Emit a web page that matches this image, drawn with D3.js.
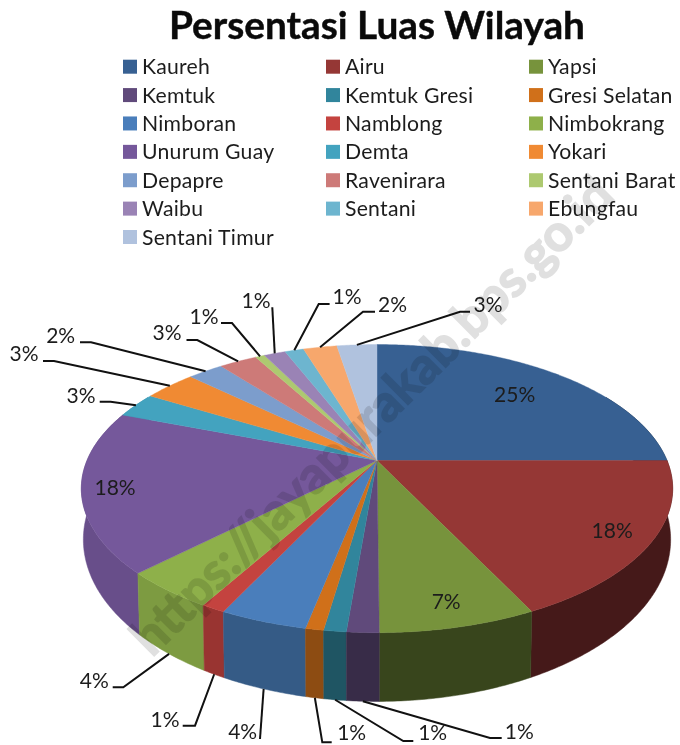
<!DOCTYPE html>
<html><head><meta charset="utf-8">
<script src="https://cdn.jsdelivr.net/npm/d3@7"></script>
<style>html,body{margin:0;background:#fff}svg{display:block;filter:blur(.35px)}text{font-family:Lato,"Open Sans",sans-serif}</style>
</head><body><svg id="c" width="680" height="745"></svg>
<script>
const titleText = "Persentasi Luas Wilayah";
const categories = ["Kaureh","Airu","Yapsi","Kemtuk","Kemtuk Gresi","Gresi Selatan","Nimboran","Namblong","Nimbokrang","Unurum Guay","Demta","Yokari","Depapre","Ravenirara","Sentani Barat","Waibu","Sentani","Ebungfau","Sentani Timur"];
const shares = [25.0,17.75,7.15,1.46,1.02,0.82,4.0,1.1,4.3,18.1,2.86,3.45,2.35,2.5,0.61,1.43,1.24,2.22,2.64];
const colors = ["#376092","#953735","#77933c","#604a7b","#31859c","#d0701a","#4a7ebb","#c4433f","#8eb04a","#75589b","#43a3bf","#f08a33","#7c9dcc","#cd7a78","#adc970","#9a83b5","#6db5cf","#f7a76c","#b0c2de"];
const legendCols = [123,326,529];
const legendRowY = d3.scaleLinear().domain([0,6]).range([66.7,237]);

// perspective projection of the pie's disc
const cx=377, tilt=0.195;
const topFace={cy:460.5,R:290,A:138.6}, baseFace={cy:508,R:288,A:155.7};
const project=(f,phi,r=1)=>{
  const s=1/(1+tilt*r*Math.cos(phi));
  return [cx+f.R*r*Math.sin(phi)*s, f.cy-f.A*r*Math.cos(phi)*s];
};
const svg=d3.select("#c");
const line=d3.line();
const arcs=d3.pie().sort(null).value(d=>d)(shares);
const rim=(f,a,b)=>{const n=Math.max(2,Math.ceil((b-a)/0.01));return d3.range(n+1).map(i=>project(f,a+(b-a)*i/n));};

// walls
const wallShade=d3.scaleLinear().domain([90,170,190,205,225,260]).range([2.2,2.1,1.1,.8,.1,.35]).clamp(true);
const deg=Math.PI/180, wallFrom=60*deg, wallTo=300*deg;
const mid=d=>(d.startAngle+d.endAngle)/2;
const walls=arcs.map((d,i)=>({d,i})).filter(o=>o.d.endAngle>wallFrom&&o.d.startAngle<wallTo)
  .sort((p,q)=>Math.abs(Math.PI-mid(q.d))-Math.abs(Math.PI-mid(p.d)));
const wallColor=o=>d3.color(colors[o.i]).darker(wallShade(mid(o.d)/deg)).formatHex();
svg.append("g").selectAll("path").data(walls).join("path")
  .attr("d",o=>{const a=Math.max(o.d.startAngle,wallFrom),b=Math.min(o.d.endAngle,wallTo);
    return line(rim(topFace,a,b).concat(rim(baseFace,a,b).reverse()))+"Z";})
  .attr("fill",wallColor).attr("stroke",wallColor).attr("stroke-width",.5);

// top faces
svg.append("g").selectAll("path").data(arcs).join("path")
  .attr("d",d=>line([[cx,topFace.cy]].concat(rim(topFace,d.startAngle,d.endAngle)))+"Z")
  .attr("fill",(d,i)=>colors[i]).attr("stroke",(d,i)=>colors[i]).attr("stroke-width",.4);

// watermark
svg.append("text").attr("transform","translate(152,658) rotate(-44.7)").attr("font-size",51).attr("font-weight",700)
  .attr("fill","#000").attr("stroke","#000").attr("stroke-width",1.6).attr("opacity",.12).text("https://jayapurakab.bps.go.id");

// title & legend
svg.append("text").attr("x",377).attr("y",39).attr("text-anchor","middle").attr("font-size",38.8).attr("font-weight",700).attr("stroke","#0a0a0a").attr("stroke-width",.4).attr("fill","#0a0a0a").text(titleText);
const lg=svg.append("g").selectAll("g").data(categories).join("g")
  .attr("transform",(d,i)=>`translate(${legendCols[i%3]},${legendRowY(Math.floor(i/3))})`);
lg.append("rect").attr("x",0).attr("y",-7).attr("width",14).attr("height",14).attr("fill",(d,i)=>colors[i]);
lg.append("text").attr("x",19).attr("y",7.5).attr("font-size",21.2).attr("letter-spacing",.25).attr("fill","#1c1c1c").text(d=>d);

// labels
const fmt=v=>Math.round(v)+"%";
const insideRadius={0:.74,1:.87,2:.87,9:.89};
svg.append("g").selectAll("text").data(arcs.filter((d,i)=>i in insideRadius)).join("text")
  .attr("x",d=>project(topFace,mid(d),insideRadius[d.index])[0])
  .attr("y",d=>project(topFace,mid(d),insideRadius[d.index])[1]+7.5)
  .attr("text-anchor","middle").attr("font-size",21).attr("fill","#1c1c1c").text(d=>fmt(d.value));

// leader layout: slice index, elbow, line end, label centre
const leaders=[
 {i:3,pts:[[490,738],[501.7,738]],t:[519.3,739]},
 {i:4,pts:[[403.3,741],[413.3,741]],t:[432.7,740]},
 {i:5,pts:[[322.3,742.3],[331.7,742.3]],t:[351.7,740]},
 {i:6,pts:[[260,739]],t:[242.7,739]},
 {i:7,pts:[[195,725.7],[182.7,725.7]],t:[165,727]},
 {i:8,pts:[[123.3,687.3],[112.7,687.3]],t:[94.3,688]},
 {i:10,pts:[[110.6,401.7],[99.7,401.7]],t:[81,403]},
 {i:11,pts:[[54,361],[43,361]],t:[24,360.5]},
 {i:12,pts:[[91,342.3],[80,342.3]],t:[60.7,343]},
 {i:13,pts:[[197.3,340],[186.5,340]],t:[167,340]},
 {i:14,pts:[[232,323],[221,323]],t:[204,324]},
 {i:15,pts:[[272.3,307.3]],t:[256,308]},
 {i:16,pts:[[318.7,304],[329.6,304]],t:[347,304]},
 {i:17,pts:[[363,311.7],[375,311.7]],t:[392.5,312]},
 {i:18,pts:[[460,311.7],[470,311.7]],t:[488,312]}
];
const anchor=i=>{const m=mid(arcs[i]);return project(m>Math.PI/2&&m<1.5*Math.PI?baseFace:topFace,m);};
svg.append("g").selectAll("path").data(leaders).join("path")
  .attr("d",l=>line([anchor(l.i)].concat(l.pts))).attr("fill","none").attr("stroke","#111").attr("stroke-width",2);
svg.append("g").selectAll("text").data(leaders).join("text")
  .attr("x",l=>l.t[0]).attr("y",l=>l.t[1]).attr("text-anchor","middle").attr("font-size",21).attr("fill","#1c1c1c")
  .text(l=>fmt(shares[l.i]));
</script></body></html>
